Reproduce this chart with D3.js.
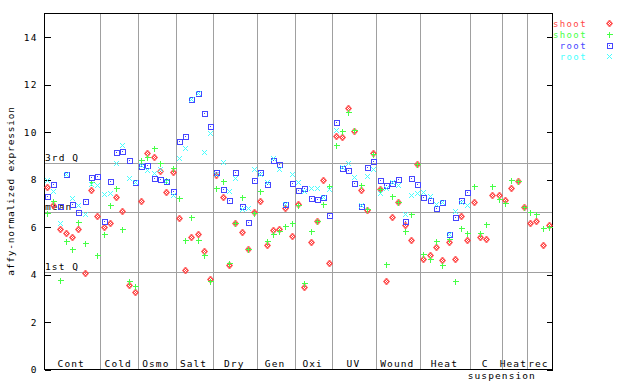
<!DOCTYPE html>
<html>
<head>
<meta charset="utf-8">
<script src="https://cdn.jsdelivr.net/npm/d3@7"></script>
<style>
  body { margin: 0; background: #fff; }
  text { font-family: "DejaVu Sans Mono", monospace; font-size: 9.5px; letter-spacing: 1.1px; }
</style>
</head>
<body>
<div id="chart"></div>
<script>
// groups along the x axis (number of samples in each)
const groupNames = ["Cont", "Cold", "Osmo", "Salt", "Dry", "Gen", "Oxi", "UV", "Wound", "Heat", "C", "Heat", "rec"]
const groupSizes = [9, 6, 6, 6, 7, 6, 6, 7, 7, 8, 5, 4, 4]

const shootRed = [
  7.65, 6.93, 5.88, 5.73, 5.57, 5.88, 4.05, 7.55, 6.45,
  5.99, 6.16, 7.25, 6.66, 3.53, 3.24,
  7.08, 9.12, 8.95, 8.35, 7.46, 8.29,
  6.37, 4.19, 5.57, 5.69, 4.99, 3.81,
  8.17, 7.23, 4.37, 6.16, 5.78, 5.06, 6.63,
  7.08, 5.21, 5.86, 5.90, 6.79, 5.61,
  6.96, 3.46, 5.36, 6.25, 7.97, 4.47,
  9.83, 9.79, 10.98, 10.04, 7.53, 6.69, 9.11,
  7.59, 3.71, 6.41, 7.04, 6.06, 5.45, 8.64,
  4.65, 4.81, 5.14, 4.60, 5.36, 4.65, 6.45, 5.45,
  7.02, 5.55, 5.49, 7.35, 7.35,
  7.13, 7.63, 7.93, 6.83,
  6.16, 6.25, 5.23, 6.07
]
const shootGreen = [
  6.58, 7.06, 3.76, 5.41, 5.07, 6.18, 5.31, 7.87, 4.81,
  5.69, 6.89, 7.63, 5.90, 3.70, 3.51,
  8.81, 8.93, 9.33, 8.69, 7.98, 8.48,
  7.21, 5.45, 6.41, 5.45, 4.81, 3.72,
  7.63, 7.91, 4.47, 6.16, 7.24, 5.06, 6.58,
  7.49, 5.38, 5.67, 5.82, 6.03, 6.16,
  6.89, 3.63, 5.80, 6.25, 6.96, 7.69,
  9.45, 10.04, 10.84, 10.08, 7.76, 6.73, 9.07,
  7.59, 4.43, 7.29, 7.04, 5.82, 6.54, 8.64,
  4.85, 4.65, 5.41, 4.38, 5.47, 3.71, 5.92, 5.75,
  7.73, 5.75, 6.13, 7.73, 7.17,
  7.00, 7.98, 7.93, 6.83,
  6.63, 6.54, 5.95, 5.99
]
const rootBlue = [
  7.29, 7.80, 6.87, 8.21, 6.96, 6.63, 7.08, 8.11, 8.15,
  6.25, 7.93, 9.15, 9.19, 8.82, 7.89,
  8.56, 8.59, 8.05, 8.01, 7.91, 7.52,
  9.61, 9.83, 11.37, 11.63, 10.79, 10.24,
  8.31, 7.59, 7.13, 8.31, 6.87, 6.21, 7.97,
  8.31, 7.80, 8.81, 8.64, 6.96, 7.84,
  7.55, 7.63, 7.21, 7.18, 7.24, 6.49,
  10.42, 8.45, 8.39, 7.84, 6.85, 8.52, 8.77,
  7.97, 7.76, 7.83, 8.01, 6.25, 8.05, 7.80,
  7.25, 7.13, 6.79, 7.03, 5.68, 6.41, 7.13, 7.46,
  null, null, null, null, null,
  null, null, null, null,
  null, null, null, null
]
const rootCyan = [
  7.97, 7.51, 6.17, 8.21, 7.21, 6.90, 6.54, 7.78, 7.76,
  7.39, 7.42, 8.70, 9.42, 8.05, 7.89,
  8.59, 8.38, 8.24, 8.41, 7.91, 7.32,
  8.89, 9.33, 11.37, 11.63, 9.15, 9.95,
  8.20, 8.73, 7.49, 8.05, 6.73, 6.79, 8.43,
  8.22, 7.89, 8.89, 8.41, 6.97, 8.20,
  7.89, 7.49, 7.63, 7.63, 7.24, 7.59,
  10.09, 8.53, 8.69, 8.10, 6.90, 8.14, 8.43,
  7.42, 7.63, 7.86, 7.76, 6.52, 7.35, 7.41,
  7.46, 7.28, 6.97, 7.03, 5.68, 6.65, 7.03, 6.92,
  null, null, null, null, null,
  null, null, null, null,
  null, null, null, null
]

const yTicks = [0, 2, 4, 6, 8, 10, 12, 14]
const statNames = ["3rd Q", "mean", "1st Q"]
const statValues = [8.69, 6.62, 4.09]

const width = 640, height = 384
const margin = {top: 13, right: 88, bottom: 15, left: 44}
const plotW = width - margin.left - margin.right,
      plotH = height - margin.top - margin.bottom

const svg = d3.select("#chart")
    .append("svg")
    .attr("width", width)
    .attr("height", height)

const g = svg.append("g")
    .attr("transform", "translate(" + margin.left + "," + margin.top + ")")

const nSamples = d3.sum(groupSizes)
let x = d3.scaleLinear().domain([0, nSamples]).range([0, plotW])
let y = d3.scaleLinear().domain([0, 15]).range([plotH, 0])

// group boundaries
let bounds = [0]
groupSizes.forEach(function(s) { bounds.push(bounds[bounds.length - 1] + s) })

g.selectAll(".sep")
    .data(bounds.slice(1, -1))
    .enter().append("line")
    .attr("x1", d => Math.round(x(d)) + 0.5)
    .attr("x2", d => Math.round(x(d)) + 0.5)
    .attr("y1", 0).attr("y2", plotH)
    .attr("stroke", "#a0a0a0")
    .attr("shape-rendering", "crispEdges")

// quartile / mean lines
g.selectAll(".stat")
    .data(statValues)
    .enter().append("line")
    .attr("x1", 0).attr("x2", plotW)
    .attr("y1", d => Math.round(y(d)) + 0.5)
    .attr("y2", d => Math.round(y(d)) + 0.5)
    .attr("stroke", "#a0a0a0")
    .attr("shape-rendering", "crispEdges")

g.selectAll(".statlabel")
    .data(statValues)
    .enter().append("text")
    .attr("x", 1)
    .attr("y", d => Math.round(y(d)) - 2)
    .attr("fill", "#000")
    .text((d, i) => statNames[i])

// frame
g.append("rect")
    .attr("x", 0.5).attr("y", 0.5)
    .attr("width", plotW).attr("height", plotH)
    .attr("fill", "none")
    .attr("stroke", "#000")
    .attr("shape-rendering", "crispEdges")

// y axis: left and right, ticks inward
g.append("g")
    .attr("transform", "translate(0.5,0.5)")
    .call(d3.axisLeft(y)
        .tickValues(yTicks)
        .tickFormat(d3.format("d"))
        .tickSizeInner(-6)
        .tickSizeOuter(0)
        .tickPadding(7)
    )
    .call(a => a.select(".domain").remove())
    .call(a => a.selectAll("text").attr("font-size", null).attr("font-family", null).attr("fill", "#000"))
    .call(a => a.selectAll("line").attr("stroke", "#000").attr("shape-rendering", "crispEdges"))

g.append("g")
    .attr("transform", "translate(" + (plotW + 0.5) + ",0.5)")
    .call(d3.axisRight(y)
        .tickValues(yTicks)
        .tickFormat("")
        .tickSizeInner(-6)
        .tickSizeOuter(0)
    )
    .call(a => a.select(".domain").remove())
    .call(a => a.selectAll("line").attr("stroke", "#000").attr("shape-rendering", "crispEdges"))

// group labels
g.selectAll(".glabel")
    .data(groupNames)
    .enter().append("text")
    .attr("x", (d, i) => x((bounds[i] + bounds[i + 1]) / 2) - 1)
    .attr("y", plotH - 2)
    .attr("text-anchor", "middle")
    .attr("fill", "#000")
    .text(d => d)

// second line of "C suspension"
g.append("text")
    .attr("x", x(bounds[11]))
    .attr("y", plotH + 10)
    .attr("text-anchor", "middle")
    .attr("fill", "#000")
    .text("suspension")

// y title
svg.append("text")
    .attr("transform", "translate(14," + (margin.top + plotH / 2) + ") rotate(-90)")
    .attr("text-anchor", "middle")
    .attr("fill", "#000")
    .style("letter-spacing", "0.8px")
    .text("affy-normalized expression")

// markers
const colors = {red: "#ff4646", green: "#46ff46", blue: "#4646ff", cyan: "#46ffff"}

const defs = svg.append("defs")
const pat = defs.append("pattern")
    .attr("id", "chk")
    .attr("width", 2).attr("height", 2)
    .attr("patternUnits", "userSpaceOnUse")
pat.append("rect").attr("x", 0).attr("y", 0).attr("width", 1).attr("height", 1).attr("fill", colors.red)
pat.append("rect").attr("x", 1).attr("y", 1).attr("width", 1).attr("height", 1).attr("fill", colors.red)

function pts(vals) {
    return vals.map((v, i) => ({i: i, v: v})).filter(d => d.v != null)
}
function pos(d) {
    return "translate(" + Math.round(x(d.i + 0.5)) + "," + Math.round(y(d.v)) + ")"
}

const diamondPath = "M0.5,-3L3.5,0.5L0.5,4L-2.5,0.5Z"
const plusPath = "M-2.5,0.5H3.5M0.5,-2.5V3.5"
const squarePath = "M-2,-2H3V3H-2Z"
const crossPath = "M-2,-2L3,3M-2,3L3,-2"

function addMarker(sel, kind) {
    if (kind === "red") {
        sel.append("path").attr("d", diamondPath).attr("fill", "url(#chk)").attr("stroke", colors.red).attr("stroke-width", 1)
    } else if (kind === "green") {
        sel.append("path").attr("d", plusPath).attr("fill", "none").attr("stroke", colors.green).attr("stroke-width", 1).attr("shape-rendering", "crispEdges")
    } else if (kind === "blue") {
        sel.append("path").attr("d", squarePath).attr("fill", "none").attr("stroke", colors.blue).attr("stroke-width", 1).attr("shape-rendering", "crispEdges")
        sel.append("rect").attr("x", 0).attr("y", 0).attr("width", 1).attr("height", 1).attr("fill", colors.blue)
    } else {
        sel.append("path").attr("d", crossPath).attr("fill", "none").attr("stroke", colors.cyan).attr("stroke-width", 1)
    }
}

function drawSeries(vals, kind) {
    let sel = g.append("g").selectAll("g")
        .data(pts(vals))
        .enter().append("g")
        .attr("transform", pos)
    addMarker(sel, kind)
}

drawSeries(shootRed, "red")
drawSeries(shootGreen, "green")
drawSeries(rootBlue, "blue")
drawSeries(rootCyan, "cyan")

// legend
const legendNames = ["shoot", "shoot", "root", "root"]
const legendKinds = ["red", "green", "blue", "cyan"]
let leg = svg.append("g").selectAll("g")
    .data(legendKinds)
    .enter().append("g")
    .attr("transform", (d, i) => "translate(0," + (23 + i * 11) + ")")
leg.append("text")
    .attr("x", 587).attr("y", 3.5)
    .attr("text-anchor", "end")
    .attr("fill", d => colors[d])
    .style("font-size", "9px")
    .style("letter-spacing", "1.4px")
    .text((d, i) => legendNames[i])
leg.each(function(d) {
    addMarker(d3.select(this).append("g").attr("transform", "translate(609,0)"), d)
})
</script>
</body>
</html>
